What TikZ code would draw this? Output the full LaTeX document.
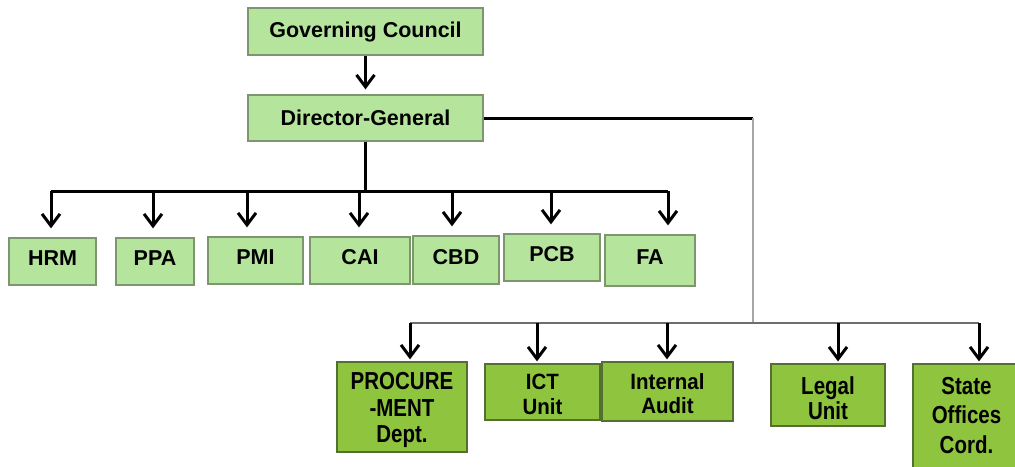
\documentclass[tikz,border=0pt]{standalone}
\usepackage{fontspec}
\setmainfont{Liberation Sans}
\usepackage{graphicx}
\usetikzlibrary{arrows.meta}
\definecolor{lightgreen}{RGB}{181,229,157}
\definecolor{darkgreen}{RGB}{143,197,62}
\definecolor{lightedge}{RGB}{125,150,110}
\definecolor{darkedge}{RGB}{85,110,50}
\definecolor{busgray}{RGB}{110,110,110}
% #1 lower, #2 vertical stretch, #3 line skip, #4 lines
\newcommand{\tallbox}[4]{\raisebox{-#1pt}[\height][\depth]{\scalebox{1}[#2]{\fontsize{20.5}{#3}\selectfont\begin{tabular}{@{}c@{}}#4\end{tabular}}}}

\begin{document}
\begin{tikzpicture}[x=1pt,y=-1pt]
        \tikzstyle{every node}=[font=\fontsize{21.5}{24}\selectfont\bfseries,inner sep=0pt]
        \tikzstyle{topbox}=[draw=lightedge,fill=lightgreen,line width=1.2pt]
        \tikzstyle{rowbox}=[topbox,text depth=7pt]
        \tikzstyle{unitbox}=[draw=darkedge,fill=darkgreen,line width=1.2pt]
        \tikzstyle{arr}=[line width=3pt,-{Straight Barb[length=12pt,width=18pt]}]
        \tikzstyle{bus}=[line width=1.5pt,busgray]
        \useasboundingbox (0,0) rectangle (1015,466);
        \begin{scope}
           \node[topbox,minimum width=235,minimum height=47] (gc) at (365.5,31.5) {Governing Council};
           \node[topbox,minimum width=235,minimum height=46] (dg) at (365.5,118) {Director-General};

           \node[rowbox,minimum width=87,minimum height=47] (hrm) at (52.5,261.5) {HRM};
           \node[rowbox,minimum width=78,minimum height=47] (ppa) at (155,261.5) {PPA};
           \node[rowbox,minimum width=95,minimum height=47] (pmi) at (255.5,260.5) {PMI};
           \node[rowbox,minimum width=100,minimum height=47] (cai) at (360,260.5) {CAI};
           \node[rowbox,minimum width=86,minimum height=48] (cbd) at (456,260) {CBD};
           \node[rowbox,minimum width=96,minimum height=47] (pcb) at (552,257.5) {PCB};
           \node[rowbox,minimum width=90,minimum height=51] (fa) at (650,260.5) {FA};

           \node[unitbox,minimum width=130,minimum height=90] (proc) at (402,407) {\tallbox{4}{1.2}{22}{PROCURE\\-MENT\\Dept.}};
           \node[unitbox,minimum width=115,minimum height=56] (ict) at (542.5,392) {\tallbox{5}{1.08}{23}{ICT\\Unit}};
           \node[unitbox,minimum width=131,minimum height=59] (audit) at (667.5,391.5) {\tallbox{5}{1.08}{22.5}{Internal\\Audit}};
           \node[unitbox,minimum width=114,minimum height=62] (legal) at (828,395) {\tallbox{7}{1.2}{21}{Legal\\Unit}};
           \node[unitbox,minimum width=107,minimum height=108] (state) at (966.5,418) {\tallbox{0}{1.2}{24.5}{State\\Offices\\Cord.}};

           \coordinate (busA) at (51,191);
           \coordinate (busB) at (410,323);
           \coordinate (drop) at (753,323);

           \draw[arr,shorten >=5pt] (gc.south) -- (dg.north);
           \draw[line width=3pt] (dg.south) -- (dg.south |- busA);
           \draw[line width=3pt] (busA) -- (668,191);
           \foreach\x/\n in {51/hrm,153/ppa,247/pmi,359/cai,452/cbd,551/pcb,668/fa}{
               \draw[arr,shorten >=9pt] (\x,0 |- busA) -- (\x,0 |- \n.north);
           }

           \draw[line width=3pt] (dg.east) -- (dg.east -| drop);
           \draw[line width=2pt,gray!70] (dg.east -| drop) -- (drop);
           \draw[bus] (busB) -- (979,323);
           \foreach\x/\n in {410/proc,537/ict,667/audit,838/legal,979/state}{
               \draw[arr,shorten >=2pt] (\x,0 |- busB) -- (\x,0 |- \n.north);
           }
        \end{scope}
\end{tikzpicture}
\end{document}
